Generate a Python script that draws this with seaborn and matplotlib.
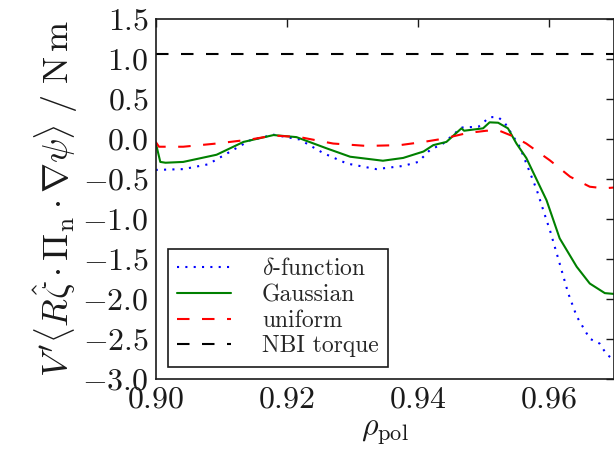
import matplotlib
matplotlib.use('Agg')
import matplotlib.pyplot as plt
import seaborn as sns

# delta-function source (blue dotted)
x_delta = [0.9000, 0.9042, 0.9080, 0.9113, 0.9144, 0.9180, 0.9220, 0.9256, 0.9292,
           0.9337, 0.9378, 0.9401, 0.9419, 0.9439, 0.9467, 0.9493, 0.9510, 0.9523,
           0.9533, 0.9556, 0.9571, 0.9582, 0.9597, 0.9602, 0.9617, 0.9630, 0.9643,
           0.9663, 0.9678, 0.9689, 0.9700]
y_delta = [-0.39, -0.38, -0.32, -0.165, -0.02, 0.05, -0.01, -0.18, -0.31,
           -0.38, -0.34, -0.29, -0.14, -0.06, 0.14, 0.15, 0.27, 0.27,
           0.20, -0.10, -0.41, -0.64, -1.02, -1.14, -1.56, -1.93, -2.22,
           -2.50, -2.56, -2.70, -2.76]

# Gaussian source (green solid)
x_gauss = [0.9000, 0.9007, 0.9015, 0.9042, 0.9093, 0.9134, 0.9180, 0.9215, 0.9261,
           0.9297, 0.9347, 0.9378, 0.9409, 0.9424, 0.9444, 0.9467, 0.9471, 0.9500,
           0.9510, 0.9523, 0.9538, 0.9551, 0.9566, 0.9597, 0.9617, 0.9643, 0.9663,
           0.9686, 0.9700]
y_gauss = [-0.05, -0.29, -0.30, -0.29, -0.20, -0.04, 0.046, 0.02, -0.12,
           -0.225, -0.275, -0.24, -0.16, -0.08, -0.04, 0.13, 0.10, 0.13,
           0.205, 0.20, 0.13, -0.06, -0.24, -0.77, -1.245, -1.60, -1.81,
           -1.93, -1.94]

# uniform source (red dashed)
x_unif = [0.9000, 0.9005, 0.9042, 0.9093, 0.9144, 0.9180, 0.9220, 0.9271, 0.9322,
          0.9373, 0.9409, 0.9439, 0.9475, 0.9505, 0.9525, 0.9546, 0.9566, 0.9602,
          0.9633, 0.9663, 0.9685, 0.9700]
y_unif = [-0.04, -0.10, -0.10, -0.06, -0.01, 0.04, 0.02, -0.06, -0.09,
          -0.08, -0.04, 0.00, 0.07, 0.10, 0.10, 0.03, -0.06, -0.27,
          -0.475, -0.60, -0.62, -0.61]

x_nbi = [0.90, 0.97]
y_nbi = [1.055, 1.055]

series = [
    (x_delta, y_delta, r'$\delta$-function', '#0000ff', (0, (1, 3))),
    (x_gauss, y_gauss, 'Gaussian', '#008000', '-'),
    (x_unif, y_unif, 'uniform', '#ff0000', (0, (6, 6))),
    (x_nbi, y_nbi, 'NBI torque', '#000000', (0, (6, 6))),
]

sns.set_theme(style='white')
plt.rcParams['font.family'] = ['cmr10', 'DejaVu Serif']
plt.rcParams['mathtext.fontset'] = 'cm'
plt.rcParams['axes.formatter.use_mathtext'] = True
plt.rcParams['axes.unicode_minus'] = True

fig = plt.figure(figsize=(6.14, 4.57), dpi=100)
ax = fig.add_axes([0.2536, 0.1713, 0.7464, 0.7877])

for xs, ys, label, color, ls in series:
    sns.lineplot(x=xs, y=ys, ax=ax, color=color, linestyle=ls, linewidth=1.5,
                 label=label, sort=False)

ax.set_xlim(0.90, 0.97)
ax.set_ylim(-3.0, 1.5)
ax.set_xticks([0.90, 0.92, 0.94, 0.96])
ax.set_yticks([1.5, 1.0, 0.5, 0.0, -0.5, -1.0, -1.5, -2.0, -2.5, -3.0])
ax.tick_params(direction='in', length=6, width=1, top=True, right=True,
               labelsize=23, colors='k', pad=5)
for sp in ax.spines.values():
    sp.set_color('k')
    sp.set_linewidth(1.2)

ax.set_xlabel(r'$\rho_\mathrm{pol}$', fontsize=23, color='k', labelpad=4)
ax.set_ylabel(r"$V'\left\langle R\hat{\zeta}\cdot\Pi_\mathrm{n}\cdot\nabla\psi\right\rangle\ /\ \mathrm{N\,m}$",
              fontsize=26, color='k', labelpad=2)

leg = ax.legend(loc='lower left', fontsize=17, fancybox=False, frameon=True,
                framealpha=1, handlelength=2.3, handletextpad=1.3,
                borderaxespad=0.5, labelspacing=0.15, borderpad=0.4)
leg.get_frame().set_edgecolor('k')
leg.get_frame().set_linewidth(1.2)

fig.savefig('out.png', dpi=100)
